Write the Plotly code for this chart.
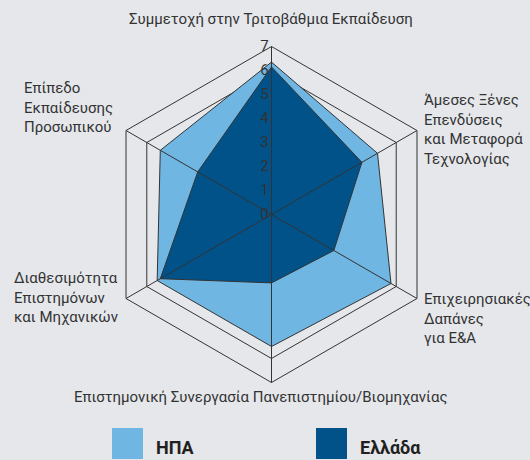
import plotly.graph_objects as go

categories = [
    "Συμμετοχή στην Τριτοβάθμια Εκπαίδευση",
    "Άμεσες Ξένες Επενδύσεις και Μεταφορά Τεχνολογίας",
    "Επιχειρησιακές Δαπάνες για Ε&Α",
    "Επιστημονική Συνεργασία Πανεπιστημίου/Βιομηχανίας",
    "Διαθεσιμότητα Επιστημόνων και Μηχανικών",
    "Επίπεδο Εκπαίδευσης Προσωπικού",
]
# the same names, wrapped the way the original prints them
category_labels = [
    "Συμμετοχή στην Τριτοβάθμια Εκπαίδευση",
    "Άμεσες Ξένες<br>Επενδύσεις<br>και Μεταφορά<br>Τεχνολογίας",
    "Επιχειρησιακές<br>Δαπάνες<br>για Ε&Α",
    "Επιστημονική Συνεργασία Πανεπιστημίου/Βιομηχανίας",
    "Διαθεσιμότητα<br>Επιστημόνων<br>και Μηχανικών",
    "Επίπεδο<br>Εκπαίδευσης<br>Προσωπικού",
]
usa = [6.35, 5.1, 5.75, 5.5, 5.5, 5.35]
greece = [6.15, 4.35, 3.0, 2.85, 5.35, 3.55]
series_names = ["ΗΠΑ", "Ελλάδα"]
series_colors = ["#70b6e2", "#005288"]

BG = "#e5e7eb"
TXT = "#333333"
LINE = "#333333"
W, H = 530, 460


def closed(vals):
    # repeat the first point so the outline closes
    return vals + vals[:1]


fig = go.Figure()

for name, vals, col in zip(series_names, [usa, greece], series_colors):
    fig.add_trace(go.Scatterpolar(
        r=closed(vals), theta=closed(categories),
        name=name, mode="lines", fill="toself",
        fillcolor=col, line=dict(color=LINE, width=1),
        showlegend=False, hoverinfo="r+name",
        subplot="polar",
    ))

# dummy trace so the overlay polar (spokes on top) gets drawn
fig.add_trace(go.Scatterpolar(
    r=greece, theta=categories, mode="lines",
    line=dict(width=0), opacity=0, hoverinfo="skip",
    showlegend=False, subplot="polar2",
))

dom = dict(x=[103.5 / W, 439.5 / W], y=[77.5 / H, 413.5 / H])

fig.update_layout(
    width=W, height=H,
    margin=dict(l=0, r=0, t=0, b=0, autoexpand=False),
    paper_bgcolor=BG,
    font=dict(family="Roboto", size=15, color=TXT),
    polar=dict(
        domain=dom,
        bgcolor=BG,
        gridshape="linear",
        angularaxis=dict(
            rotation=90, direction="clockwise",
            categoryorder="array", categoryarray=categories,
            showgrid=False, showline=True, linecolor=LINE, linewidth=1,
            ticks="", showticklabels=False,
        ),
        radialaxis=dict(
            range=[0, 7], dtick=1, angle=90, side="counterclockwise",
            tickangle=90,
            showgrid=True, gridcolor=LINE, gridwidth=1,
            showline=False, ticks="",
            tickfont=dict(size=15, color=TXT),
        ),
    ),
    polar2=dict(
        domain=dom,
        bgcolor="rgba(0,0,0,0)",
        gridshape="linear",
        angularaxis=dict(
            rotation=90, direction="clockwise",
            categoryorder="array", categoryarray=categories,
            showgrid=True, gridcolor=LINE, gridwidth=1,
            showline=False, showticklabels=False, ticks="",
        ),
        radialaxis=dict(
            range=[0, 7], showgrid=False, showline=False,
            showticklabels=False, ticks="",
        ),
    ),
)

# category labels placed round the hexagon (x, y in px from top-left)
label_pos = [(271, 19, "center"), (422, 129, "left"), (422, 318, "left"),
             (260, 397, "center"), (12, 297, "left"), (22, 108, "left")]
for txt, (px, py, anchor) in zip(category_labels, label_pos):
    fig.add_annotation(text=txt, xref="paper", yref="paper",
                       x=px / W, y=1 - py / H, xanchor=anchor, yanchor="middle",
                       align="left", showarrow=False,
                       font=dict(size=15, color=TXT))

# legend drawn as big squares like the original
leg_x = [112, 316]
for name, col, x in zip(series_names, series_colors, leg_x):
    fig.add_shape(type="rect", xref="paper", yref="paper",
                  x0=x / W, x1=(x + 31) / W, y0=1 / H, y1=32 / H,
                  fillcolor=col, line=dict(width=0))
    fig.add_annotation(text="<b>%s</b>" % name, xref="paper", yref="paper",
                       x=(x + 42) / W, y=0, xanchor="left", yanchor="bottom",
                       showarrow=False, font=dict(size=18, color="#231f20"))

# page body has a default 8px margin; drop it so the figure fills the window
fig.write_html("out.html", config={"displayModeBar": False},
               post_script="document.body.style.margin='0';"
                           "document.body.style.background='%s';" % BG)
